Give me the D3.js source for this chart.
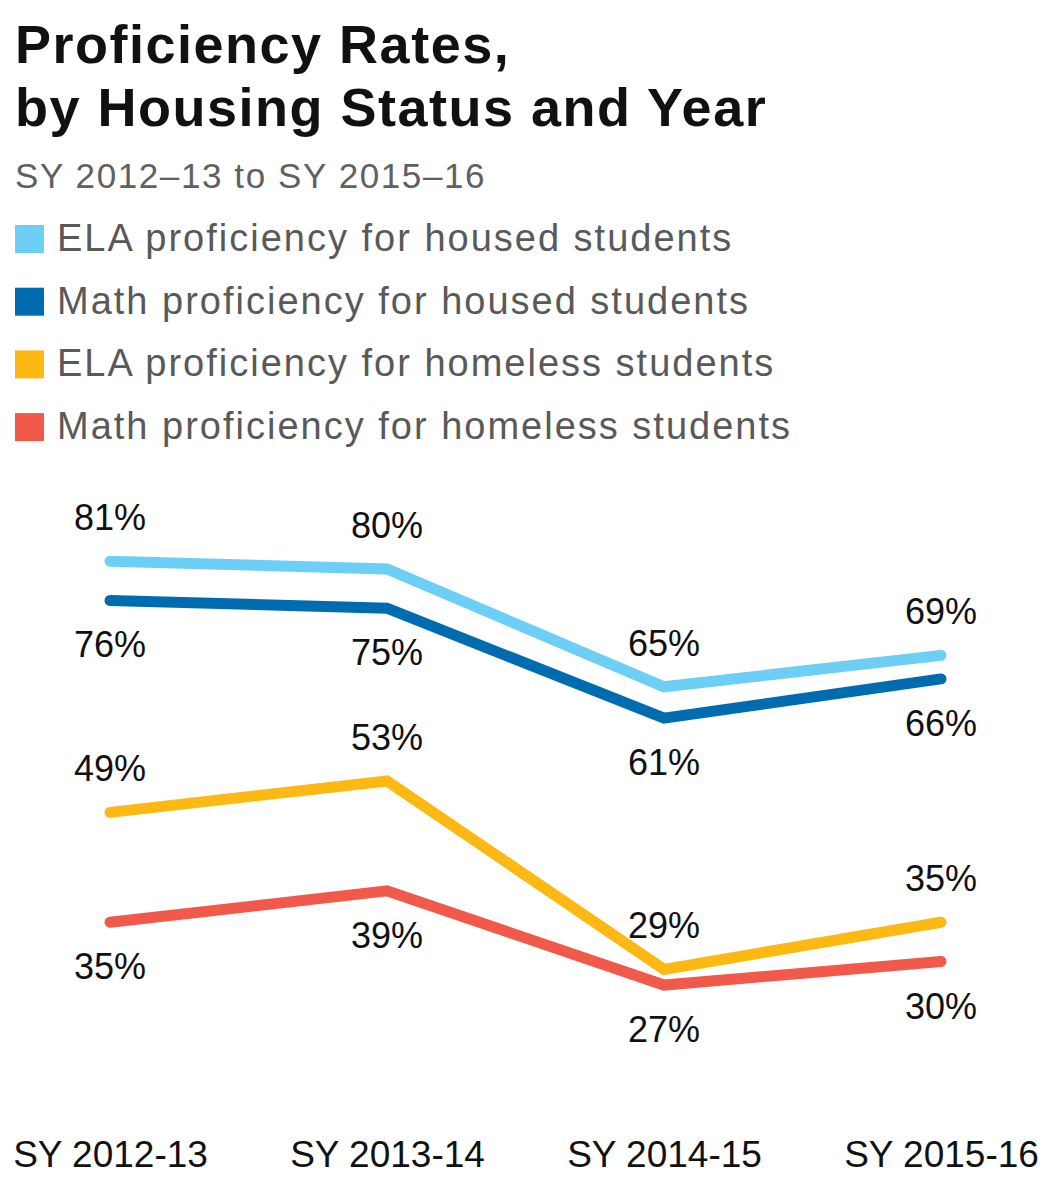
<!DOCTYPE html>
<html>
<head>
<meta charset="utf-8">
<script src="https://cdn.jsdelivr.net/npm/d3@7"></script>
<style>
  body { margin: 0; background: #fff; }
  svg { display: block; }
</style>
</head>
<body>
<div id="chart"></div>
<script>
const years = ["SY 2012-13", "SY 2013-14", "SY 2014-15", "SY 2015-16"];
const seriesNames = [
  "ELA proficiency for housed students",
  "Math proficiency for housed students",
  "ELA proficiency for homeless students",
  "Math proficiency for homeless students"
];
const elaHoused = [81, 80, 65, 69];
const mathHoused = [76, 75, 61, 66];
const elaHomeless = [49, 53, 29, 35];
const mathHomeless = [35, 39, 27, 30];
const colors = ["#6dcff6", "#006cb0", "#fdb913", "#f15a4a"];
const labelSide = ["above", "below", "above", "below"];

const series = [elaHoused, mathHoused, elaHomeless, mathHomeless].map((values, i) => ({
  name: seriesNames[i], color: colors[i], side: labelSide[i],
  points: values.map((v, j) => ({year: years[j], value: v}))
}));

const width = 1050, height = 1179;
const svg = d3.select("#chart").append("svg").attr("width", width).attr("height", height);

// title, subtitle
const titleLines = ["Proficiency Rates,", "by Housing Status and Year"];
titleLines.forEach((t, i) => {
  svg.append("text").attr("x", 15).attr("y", 63 + i * 63)
    .attr("font-family", "Liberation Sans, Arial, sans-serif").attr("font-weight", 700)
    .attr("font-size", 54).attr("fill", "#111").attr("letter-spacing", 1.5).text(t);
});

svg.append("text").attr("x", 15).attr("y", 188)
  .attr("font-family", "Liberation Sans, Arial, sans-serif").attr("font-size", 35)
  .attr("fill", "#606060").attr("letter-spacing", 1.6).text("SY 2012–13 to SY 2015–16");

// legend
const legend = svg.append("g").attr("transform", "translate(15,238)");
series.forEach((s, i) => {
  const row = legend.append("g").attr("transform", `translate(0,${i * 62.7})`);
  row.append("rect").attr("x", 0).attr("y", -13).attr("width", 29).attr("height", 28).attr("fill", s.color);
  row.append("text").attr("x", 42).attr("y", 13)
    .attr("font-family", "Liberation Sans, Arial, sans-serif").attr("font-size", 38)
    .attr("fill", "#595959").attr("letter-spacing", 2.0).text(s.name);
});

// scales
const x = d3.scalePoint().domain(years).range([110, 941]);
const y = d3.scaleLinear().domain([0, 100]).range([1197, 412]);

const line = d3.line().x(d => x(d.year)).y(d => y(d.value));

svg.selectAll("path.series").data(series).enter().append("path")
  .attr("class", "series")
  .attr("fill", "none")
  .attr("stroke", d => d.color)
  .attr("stroke-width", 11)
  .attr("stroke-linecap", "round")
  .attr("stroke-linejoin", "miter")
  .attr("d", d => line(d.points));

// value labels
series.forEach(s => {
  svg.append("g").selectAll("text").data(s.points).enter().append("text")
    .attr("x", d => x(d.year))
    .attr("y", d => y(d.value) + (s.side === "above" ? -31 : 57))
    .attr("text-anchor", "middle")
    .attr("font-family", "Liberation Sans, Arial, sans-serif")
    .attr("font-size", 36)
    .attr("fill", "#111")
    .text(d => d.value + "%");
});

// x axis labels
const xAxis = svg.append("g").attr("transform", "translate(0,1167)")
  .call(d3.axisBottom(x).tickSize(0).tickPadding(0));
xAxis.select(".domain").remove();
xAxis.selectAll("text")
  .attr("dy", 0)
  .attr("font-family", "Liberation Sans, Arial, sans-serif")
  .attr("font-size", 37)
  .attr("fill", "#111");
</script>
</body>
</html>
